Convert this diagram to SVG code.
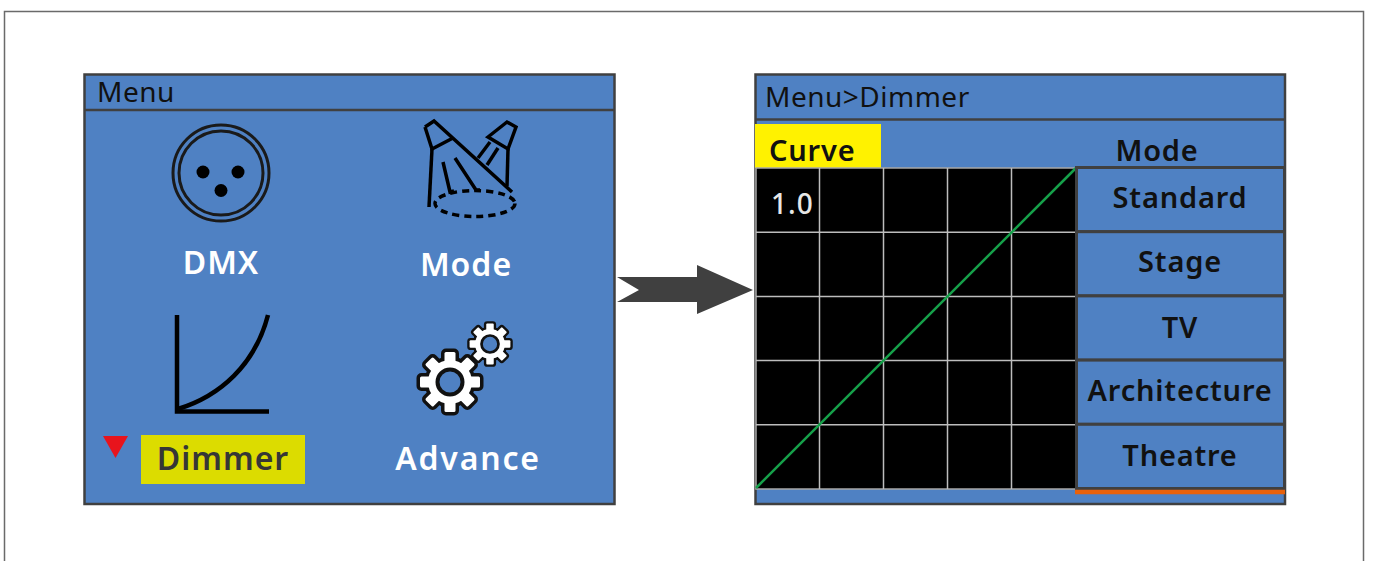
<svg xmlns="http://www.w3.org/2000/svg" xmlns:xlink="http://www.w3.org/1999/xlink" width="1373" height="561" viewBox="0 0 1373 561">
<style>
.panel{fill:#4f81c3;stroke:#404040;stroke-width:2.5}
.sep{stroke:#404040;stroke-width:2.5}
.hdr{font-family:"Noto Sans","Liberation Sans",sans-serif;font-size:28px;fill:#111;letter-spacing:0.5px}
.lbl{font-family:"Noto Sans","Liberation Sans",sans-serif;font-size:32px;font-weight:600;fill:#fff;text-anchor:middle;letter-spacing:1px}
.btn{fill:#4f81c3;stroke:#404040;stroke-width:3}
.btxt{font-family:"Noto Sans","Liberation Sans",sans-serif;font-size:29px;font-weight:600;fill:#111;text-anchor:middle;letter-spacing:0.8px}
.ico{fill:none;stroke:#000;stroke-width:3.5;stroke-linecap:butt;stroke-linejoin:miter}
.grid{stroke:#bdbdbd;stroke-width:1.5}
</style>
<defs>
<g id="gearShape">
<circle r="22"/>
<rect x="-5.5" y="-30" width="11" height="14" rx="1.5"/>
<rect x="-5.5" y="-30" width="11" height="14" rx="1.5" transform="rotate(45)"/>
<rect x="-5.5" y="-30" width="11" height="14" rx="1.5" transform="rotate(90)"/>
<rect x="-5.5" y="-30" width="11" height="14" rx="1.5" transform="rotate(135)"/>
<rect x="-5.5" y="-30" width="11" height="14" rx="1.5" transform="rotate(180)"/>
<rect x="-5.5" y="-30" width="11" height="14" rx="1.5" transform="rotate(225)"/>
<rect x="-5.5" y="-30" width="11" height="14" rx="1.5" transform="rotate(270)"/>
<rect x="-5.5" y="-30" width="11" height="14" rx="1.5" transform="rotate(315)"/>
</g>
<g id="gear">
<use xlink:href="#gearShape" fill="#111" stroke="#111" stroke-width="7" stroke-linejoin="round"/>
<use xlink:href="#gearShape" fill="#fff"/>
<circle r="12.5" fill="#4f81c3" stroke="#111" stroke-width="4"/>
</g>
</defs>

<rect x="4.5" y="11.5" width="1359" height="560" fill="#fff" stroke="#6a6a6a" stroke-width="1.5"/>

<g id="menu-screen">
<rect class="panel" x="84.5" y="74.5" width="530" height="429.5"/>
<line class="sep" x1="84" y1="110" x2="615" y2="110"/>
<text class="hdr" x="97" y="102">Menu</text>

<g id="icon-dmx">
<circle cx="221" cy="173" r="48" fill="none" stroke="#1a1a1a" stroke-width="3"/>
<circle cx="221" cy="173" r="42" fill="none" stroke="#1a1a1a" stroke-width="3"/>
<circle cx="203" cy="172" r="6.5" fill="#000"/>
<circle cx="238" cy="172" r="6.5" fill="#000"/>
<circle cx="221" cy="190.5" r="6.5" fill="#000"/>
</g>
<text class="lbl" x="221" y="274">DMX</text>

<g id="icon-mode">
<path class="ico" d="M425,127 L434,121 L512,192"/>
<path class="ico" d="M425,127 L432,149 L453,138"/>
<path class="ico" d="M432,149 L429,207"/>
<path class="ico" d="M443,162 L450,192 L454,191"/>
<path class="ico" d="M455,158 L476,190 L480,190"/>
<path class="ico" d="M488,137 L507,122 L516,127 L508,149 Z"/>
<path class="ico" d="M490,142 L478,158"/>
<path class="ico" d="M498,148 L487,165"/>
<path class="ico" d="M508,149 L507,186"/>
<ellipse cx="475" cy="203.5" rx="40" ry="13" fill="none" stroke="#000" stroke-width="3.5" stroke-dasharray="7 5"/>
</g>
<text class="lbl" x="466" y="276">Mode</text>

<g id="icon-dimmer">
<path d="M177,315 L177,411.5 L269,411.5" fill="none" stroke="#000" stroke-width="4.5"/>
<path d="M178,409 C220,396 255,365 268,315" fill="none" stroke="#000" stroke-width="4.5"/>
</g>
<polygon points="103,436 128,436 115.5,458" fill="#e8141c"/>
<rect x="141" y="435" width="164" height="49" fill="#dcdc00"/>
<text class="lbl" x="223" y="470" style="fill:#363636">Dimmer</text>

<g id="icon-advance">
<use xlink:href="#gear" transform="translate(450,382)"/>
<use xlink:href="#gear" transform="translate(490,344) scale(0.68)"/>
</g>
<text class="lbl" x="468" y="470" style="letter-spacing:1.8px">Advance</text>
</g>

<g id="connectors">
<polygon points="617,277 697,277 697,265 753,290 697,314 697,302 617,302 639,290" fill="#404040"/>
</g>

<g id="dimmer-screen">
<rect class="panel" x="755.5" y="74.5" width="529.5" height="429.5"/>
<line class="sep" x1="755" y1="119.5" x2="1285" y2="119.5"/>
<text class="hdr" x="765" y="107">Menu&gt;Dimmer</text>

<rect x="755" y="124" width="126" height="44" fill="#fff200"/>
<text class="btxt" x="769" y="161" style="text-anchor:start">Curve</text>
<text class="btxt" x="1157" y="161">Mode</text>

<rect x="756" y="168" width="320" height="321" fill="#000" stroke="#a8a8a8" stroke-width="1.5"/>
<g class="grid">
<line x1="819.5" y1="168" x2="819.5" y2="489"/>
<line x1="883.5" y1="168" x2="883.5" y2="489"/>
<line x1="947.5" y1="168" x2="947.5" y2="489"/>
<line x1="1011.5" y1="168" x2="1011.5" y2="489"/>
<line x1="756" y1="232.2" x2="1076" y2="232.2"/>
<line x1="756" y1="296.4" x2="1076" y2="296.4"/>
<line x1="756" y1="360.6" x2="1076" y2="360.6"/>
<line x1="756" y1="424.8" x2="1076" y2="424.8"/>
</g>
<line x1="756" y1="488" x2="1076" y2="168" stroke="#16a04a" stroke-width="2.5"/>
<text x="771" y="214" style="font-family:'Noto Sans','Liberation Sans',sans-serif;font-size:28px;font-weight:500;fill:#e6e6e6;letter-spacing:1px">1.0</text>

<g id="mode-list">
<rect class="btn" x="1076.5" y="167.5" width="208" height="64.2"/>
<rect class="btn" x="1076.5" y="231.7" width="208" height="64.2"/>
<rect class="btn" x="1076.5" y="295.9" width="208" height="64.2"/>
<rect class="btn" x="1076.5" y="360.1" width="208" height="64.2"/>
<rect class="btn" x="1076.5" y="424.3" width="208" height="64.2"/>
<text class="btxt" x="1180" y="208">Standard</text>
<text class="btxt" x="1180" y="272">Stage</text>
<text class="btxt" x="1180" y="338">TV</text>
<text class="btxt" x="1180" y="401">Architecture</text>
<text class="btxt" x="1180" y="466">Theatre</text>
</g>
<line x1="1075" y1="492" x2="1285" y2="492" stroke="#e8610c" stroke-width="4.5"/>
</g>
</svg>
